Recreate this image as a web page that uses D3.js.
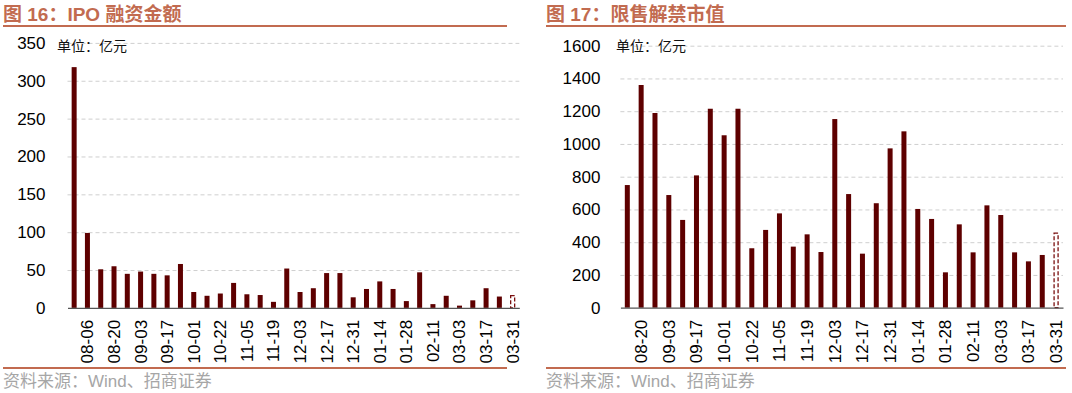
<!DOCTYPE html>
<html>
<head>
<meta charset="utf-8">
<script src="https://cdn.jsdelivr.net/npm/d3@7"></script>
<style>
  html, body { margin: 0; padding: 0; background: #ffffff; }
  svg { display: block; }
</style>
</head>
<body>
<svg id="chart" width="1072" height="393"></svg>
<script>
// ---------------- data ----------------
const ipoWeeks = ["07-30","08-06","08-13","08-20","08-27","09-03","09-10","09-17","09-24","10-01",
  "10-15","10-22","10-29","11-05","11-12","11-19","11-26","12-03","12-10","12-17",
  "12-24","12-31","01-07","01-14","01-21","01-28","02-04","02-11","02-25","03-03",
  "03-10","03-17","03-24","03-31"];
const ipoValues = [318,99,51,55,45,48,45,43,58,21,
  16,19,33,18,17,8,52,21,26,46,
  46,14,25,35,25,9,47,5,16,3,
  10,26,15,17];
const ipoEstimated = ["03-31"];
const ipoTicks = [0,50,100,150,200,250,300,350];

const unlockWeeks = ["08-13","08-20","08-27","09-03","09-10","09-17","09-24","10-01",
  "10-15","10-22","10-29","11-05","11-12","11-19","11-26","12-03","12-10","12-17",
  "12-24","12-31","01-07","01-14","01-21","01-28","02-04","02-11","02-25","03-03",
  "03-10","03-17","03-24","03-31"];
const unlockValues = [749,1360,1189,688,536,808,1215,1053,
  1215,363,475,576,373,448,340,1152,694,330,
  638,973,1077,603,542,216,509,338,625,566,
  338,283,322,458];
const unlockEstimated = ["03-31"];
const unlockTicks = [0,200,400,600,800,1000,1200,1400,1600];

const xTickLabelsIpo = ["08-06","08-20","09-03","09-17","10-01","10-22","11-05","11-19","12-03","12-17","12-31","01-14","01-28","02-11","03-03","03-17","03-31"];
const xTickLabelsUnlock = ["08-20","09-03","09-17","10-01","10-22","11-05","11-19","12-03","12-17","12-31","01-14","01-28","02-11","03-03","03-17","03-31"];

const titles = ["图 16：IPO 融资金额", "图 17：限售解禁市值"];
const unitText = "单位：亿元";
const sourceText = "资料来源：Wind、招商证券";

// ---------------- style ----------------
const accent = "#C26B50";
const barColor = "#5E0000";
const numFont = "'Liberation Sans', Arial, sans-serif";
const cjkFont = "'Noto Sans CJK SC', 'Noto Sans', sans-serif";
const mixFont = "'Liberation Sans', Arial, 'Noto Sans CJK SC', sans-serif";

const svg = d3.select("#chart");

function panel(opts) {
  const g = svg.append("g");
  // title
  g.append("text")
    .attr("x", opts.left).attr("y", 21)
    .attr("fill", accent)
    .attr("font-family", mixFont)
    .attr("font-weight", "bold")
    .attr("font-size", 19)
    .text(opts.title);
  g.append("line")
    .attr("x1", opts.left).attr("x2", opts.right)
    .attr("y1", 26).attr("y2", 26)
    .attr("stroke", accent).attr("stroke-width", 2);
  // footer
  g.append("line")
    .attr("x1", opts.left).attr("x2", opts.right)
    .attr("y1", 368).attr("y2", 368)
    .attr("stroke", accent).attr("stroke-width", 2);
  g.append("text")
    .attr("x", opts.left).attr("y", 387)
    .attr("fill", "#A6A6A6")
    .attr("font-family", mixFont)
    .attr("font-size", 17)
    .text(sourceText);

  const x = d3.scaleBand().domain(opts.cats).range([opts.x0, opts.x1]).padding(0);
  const y = d3.scaleLinear().domain([0, opts.ymax]).range([opts.y0, opts.y1]);
  const w = opts.x1 - opts.x0;

  // y axis with gridlines
  const ya = g.append("g")
    .attr("transform", `translate(${opts.x0},0)`)
    .call(d3.axisLeft(y).tickValues(opts.yTicks).tickSize(-w).tickPadding(opts.tickPad).tickFormat(d3.format("d")));
  ya.select(".domain").remove();
  ya.selectAll(".tick line")
    .attr("stroke", "#CFCFCF")
    .attr("stroke-dasharray", "4,3")
    .attr("stroke-width", 1)
    .filter(d => d === 0).remove();
  ya.selectAll(".tick text")
    .attr("font-family", numFont)
    .attr("font-size", 17)
    .attr("fill", "#000");

  // unit label
  g.append("text")
    .attr("x", opts.unitX).attr("y", 51)
    .attr("font-family", cjkFont)
    .attr("font-size", 14)
    .attr("fill", "#111")
    .text(unitText);

  // bars
  const data = opts.cats.map((c, i) => ({c, v: opts.vals[i], est: opts.est.includes(c)}));
  const bw = 5;
  g.append("g").selectAll("rect.solid")
    .data(data.filter(d => !d.est))
    .join("rect")
    .attr("x", d => x(d.c) + x.bandwidth() / 2 - bw / 2)
    .attr("y", d => y(d.v))
    .attr("width", bw)
    .attr("height", d => y(0) - y(d.v))
    .attr("fill", barColor);
  g.append("g").selectAll("rect.est")
    .data(data.filter(d => d.est))
    .join("rect")
    .attr("x", d => x(d.c) + x.bandwidth() / 2 - bw / 2 + 0.5)
    .attr("y", d => y(d.v) + 0.5)
    .attr("width", bw - 1)
    .attr("height", d => y(0) - y(d.v) - 0.5)
    .attr("fill", "#fff")
    .attr("stroke", "#7A0F0F")
    .attr("stroke-width", 1.3)
    .attr("stroke-dasharray", "4,2");

  // x axis
  const xa = g.append("g")
    .attr("transform", `translate(0,${opts.y0})`)
    .call(d3.axisBottom(x).tickValues(opts.xTicks).tickSize(0).tickSizeOuter(0));
  xa.select(".domain").attr("stroke", "#555").attr("stroke-width", 1.3);
  xa.selectAll(".tick text")
    .attr("transform", "rotate(-90)")
    .attr("text-anchor", "end")
    .attr("x", -12).attr("y", 0).attr("dy", "0.35em")
    .attr("font-family", numFont)
    .attr("font-size", 17)
    .attr("fill", "#000");
}

panel({
  title: titles[0], left: 3, right: 507,
  cats: ipoWeeks, vals: ipoValues, est: ipoEstimated,
  x0: 67.5, x1: 519.3, y0: 307.9, y1: 42.9, ymax: 350,
  yTicks: ipoTicks, xTicks: xTickLabelsIpo, tickPad: 22, unitX: 57
});
panel({
  title: titles[1], left: 546, right: 1066,
  cats: unlockWeeks, vals: unlockValues, est: unlockEstimated,
  x0: 620.4, x1: 1063, y0: 307.7, y1: 45.7, ymax: 1600,
  yTicks: unlockTicks, xTicks: xTickLabelsUnlock, tickPad: 20, unitX: 616
});
</script>
</body>
</html>
